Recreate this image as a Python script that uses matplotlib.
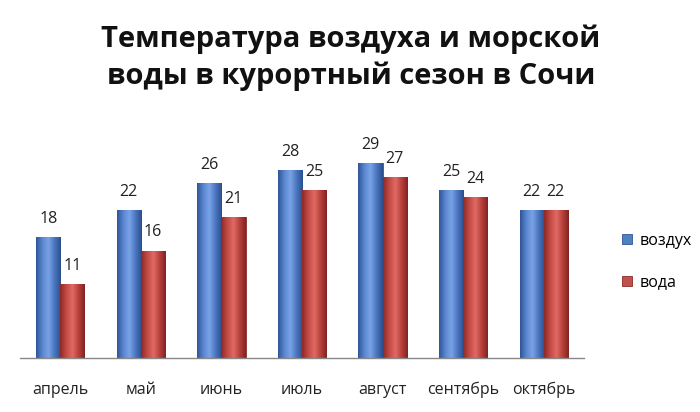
import numpy as np
import matplotlib
matplotlib.use("Agg")
import matplotlib.pyplot as plt
from matplotlib.colors import LinearSegmentedColormap

categories = ["апрель", "май", "июнь", "июль", "август", "сентябрь", "октябрь"]
air = [18, 22, 26, 28, 29, 25, 22]
water = [11, 16, 21, 25, 27, 24, 22]
series_names = ["воздух", "вода"]
title = "Температура воздуха и морской\nводы в курортный сезон в Сочи"

plt.rcParams['font.family'] = ['Open Sans', 'DejaVu Sans']

fig = plt.figure(figsize=(7.0, 4.12), dpi=100)
ax = fig.add_axes([20/700, 54/412, 564/700, 235/412])

x = np.arange(len(categories))
w = 0.3
blue_cmap = LinearSegmentedColormap.from_list("b", ["#2f5597", "#5a86d0", "#7aa3e6", "#4a76c0", "#2b4f8e"])
red_cmap = LinearSegmentedColormap.from_list("r", ["#8c2a27", "#c44a45", "#df6a64", "#b8403b", "#7f2422"])

def gradient_bars(bars, cmap):
    grad = np.linspace(0, 1, 64).reshape(1, -1)
    for b in bars:
        x0, wd, h = b.get_x(), b.get_width(), b.get_height()
        im = ax.imshow(grad, cmap=cmap, extent=[x0, x0 + wd, 0, h], aspect='auto', zorder=2)
        im.set_clip_path(b)

b1 = ax.bar(x - w/2, air, w, color="#4f81bd", edgecolor="#2f5597", linewidth=0.6, zorder=2, label=series_names[0])
b2 = ax.bar(x + w/2, water, w, color="#c0504d", edgecolor="#8c2a27", linewidth=0.6, zorder=2, label=series_names[1])
gradient_bars(b1, blue_cmap)
gradient_bars(b2, red_cmap)

for xi, v in zip(x - w/2, air):
    ax.text(xi, v + 1.5, str(v), ha='center', va='bottom', fontsize=11.5, color='#222222')
for xi, v in zip(x + w/2, water):
    ax.text(xi, v + 1.5, str(v), ha='center', va='bottom', fontsize=11.5, color='#222222')

ax.set_xlim(-0.5, len(categories) - 0.5)
ax.set_ylim(0, 35)
ax.set_xticks(x)
ax.set_xticklabels(categories, fontsize=11.5, color='#222222')
ax.tick_params(axis='x', length=0, pad=17)
ax.set_yticks([])
for s in ['top', 'right', 'left']:
    ax.spines[s].set_visible(False)
ax.spines['bottom'].set_color('#888888')
ax.spines['bottom'].set_linewidth(1.0)

fig.text(351/700, 1 - 58/412, title, ha='center', va='center', fontsize=21, fontweight='bold',
         color='#111111', linespacing=1.35)

leg = ax.legend(handles=[b1, b2], loc='center left', bbox_to_anchor=((608 - 20)/564, 0.41),
                frameon=False, fontsize=11.5, handlelength=0.6, handleheight=0.6,
                labelspacing=1.6, handletextpad=0.5)

fig.savefig("out.png", dpi=100, facecolor='white')
